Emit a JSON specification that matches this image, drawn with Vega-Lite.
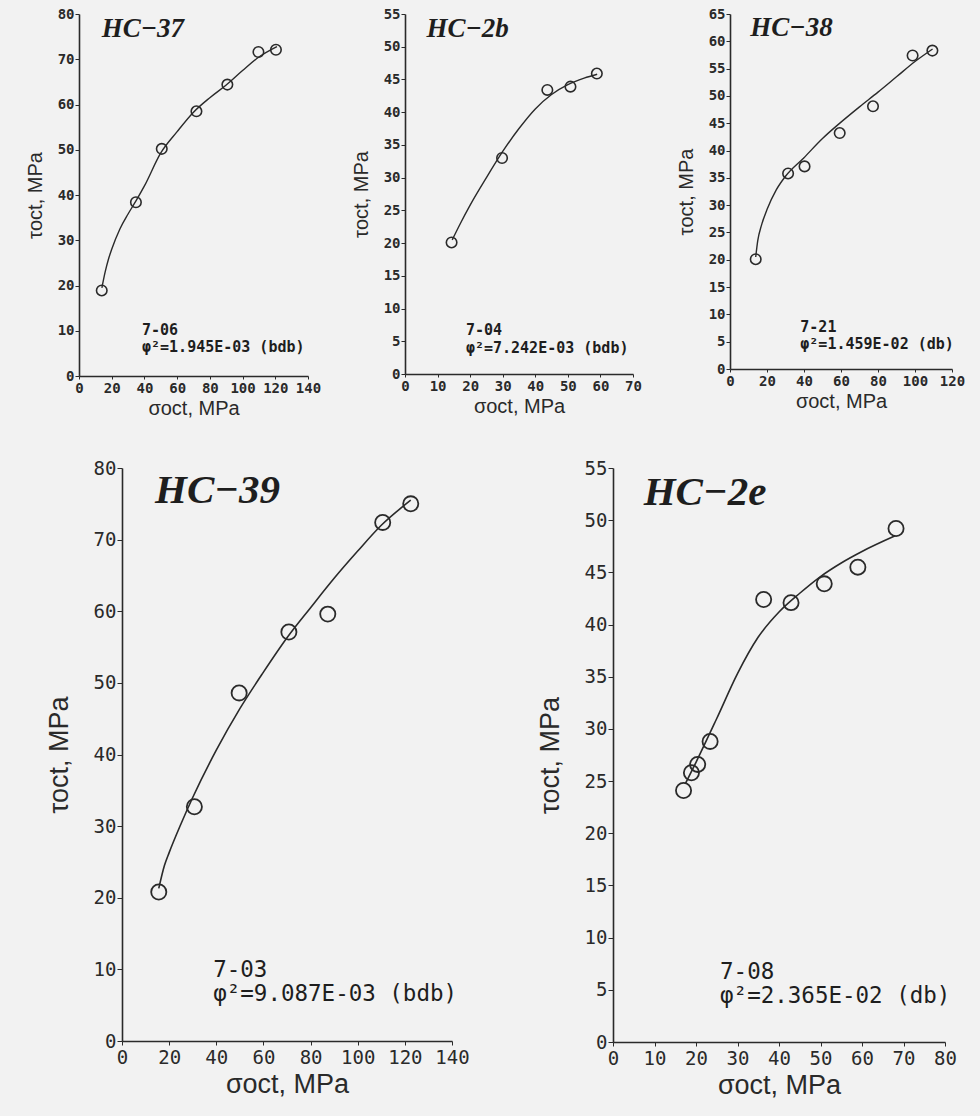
{
  "$schema": "https://vega.github.io/schema/vega-lite/v6.json",
  "background": "#f2f2f2",
  "padding": {"left": 25, "top": 7, "right": 17, "bottom": 18},
  "spacing": 41,
  "config": {
    "view": {"stroke": null},
    "axis": {"grid": false, "domainColor": "#2a2a2a", "tickColor": "#2a2a2a", "labelColor": "#2a2a2a", "titleColor": "#2a2a2a", "labelFont": "DejaVu Sans Mono", "titleFont": "Liberation Sans", "titleFontWeight": "normal", "domainWidth": 1.6, "labelFlush": false, "labelOverlap": false, "labelBound": false}
  },
  "datasets": {
    "pts": [
      {"panel": "HC-37", "s": 13.9, "t": 18.9}, {"panel": "HC-37", "s": 34.8, "t": 38.4}, {"panel": "HC-37", "s": 50.6, "t": 50.2}, {"panel": "HC-37", "s": 71.8, "t": 58.5}, {"panel": "HC-37", "s": 90.7, "t": 64.4}, {"panel": "HC-37", "s": 109.7, "t": 71.6}, {"panel": "HC-37", "s": 120.4, "t": 72.1},
      {"panel": "HC-2b", "s": 14.3, "t": 20.1}, {"panel": "HC-2b", "s": 29.8, "t": 33.0}, {"panel": "HC-2b", "s": 43.7, "t": 43.4}, {"panel": "HC-2b", "s": 50.8, "t": 43.9}, {"panel": "HC-2b", "s": 58.9, "t": 45.9},
      {"panel": "HC-38", "s": 13.9, "t": 20.1}, {"panel": "HC-38", "s": 31.4, "t": 35.8}, {"panel": "HC-38", "s": 40.3, "t": 37.1}, {"panel": "HC-38", "s": 59.3, "t": 43.2}, {"panel": "HC-38", "s": 77.3, "t": 48.1}, {"panel": "HC-38", "s": 98.7, "t": 57.4}, {"panel": "HC-38", "s": 109.4, "t": 58.3},
      {"panel": "HC-39", "s": 15.6, "t": 20.8}, {"panel": "HC-39", "s": 30.7, "t": 32.7}, {"panel": "HC-39", "s": 49.7, "t": 48.6}, {"panel": "HC-39", "s": 70.8, "t": 57.1}, {"panel": "HC-39", "s": 87.3, "t": 59.6}, {"panel": "HC-39", "s": 110.6, "t": 72.4}, {"panel": "HC-39", "s": 122.5, "t": 75.0},
      {"panel": "HC-2e", "s": 17.0, "t": 24.1}, {"panel": "HC-2e", "s": 18.9, "t": 25.8}, {"panel": "HC-2e", "s": 20.4, "t": 26.6}, {"panel": "HC-2e", "s": 23.4, "t": 28.8}, {"panel": "HC-2e", "s": 36.3, "t": 42.4}, {"panel": "HC-2e", "s": 42.9, "t": 42.1}, {"panel": "HC-2e", "s": 50.9, "t": 43.9}, {"panel": "HC-2e", "s": 59.0, "t": 45.5}, {"panel": "HC-2e", "s": 68.2, "t": 49.2}
    ],
    "fit": [
      {"panel": "HC-37", "s": 14, "t": 19.5}, {"panel": "HC-37", "s": 16, "t": 23}, {"panel": "HC-37", "s": 18, "t": 25.8}, {"panel": "HC-37", "s": 20, "t": 28}, {"panel": "HC-37", "s": 25, "t": 32.5}, {"panel": "HC-37", "s": 30, "t": 35.8}, {"panel": "HC-37", "s": 35, "t": 38.8}, {"panel": "HC-37", "s": 40, "t": 42}, {"panel": "HC-37", "s": 50, "t": 49.3}, {"panel": "HC-37", "s": 60, "t": 54}, {"panel": "HC-37", "s": 70, "t": 58.3}, {"panel": "HC-37", "s": 80, "t": 61.5}, {"panel": "HC-37", "s": 90, "t": 64.3}, {"panel": "HC-37", "s": 100, "t": 67.5}, {"panel": "HC-37", "s": 110, "t": 70.5}, {"panel": "HC-37", "s": 121, "t": 72.8},
      {"panel": "HC-2b", "s": 14.5, "t": 20.5}, {"panel": "HC-2b", "s": 17, "t": 23}, {"panel": "HC-2b", "s": 20, "t": 25.8}, {"panel": "HC-2b", "s": 25, "t": 30}, {"panel": "HC-2b", "s": 30, "t": 34}, {"panel": "HC-2b", "s": 35, "t": 37.5}, {"panel": "HC-2b", "s": 40, "t": 40.5}, {"panel": "HC-2b", "s": 45, "t": 42.7}, {"panel": "HC-2b", "s": 50, "t": 44.2}, {"panel": "HC-2b", "s": 55, "t": 45.2}, {"panel": "HC-2b", "s": 59, "t": 45.8},
      {"panel": "HC-38", "s": 13.9, "t": 20.5}, {"panel": "HC-38", "s": 15, "t": 23.5}, {"panel": "HC-38", "s": 17, "t": 26.3}, {"panel": "HC-38", "s": 20, "t": 29.2}, {"panel": "HC-38", "s": 25, "t": 32.8}, {"panel": "HC-38", "s": 30, "t": 35.3}, {"panel": "HC-38", "s": 40, "t": 38.7}, {"panel": "HC-38", "s": 50, "t": 42.2}, {"panel": "HC-38", "s": 60, "t": 45.2}, {"panel": "HC-38", "s": 70, "t": 48}, {"panel": "HC-38", "s": 80, "t": 50.7}, {"panel": "HC-38", "s": 90, "t": 53.5}, {"panel": "HC-38", "s": 100, "t": 56.3}, {"panel": "HC-38", "s": 109.5, "t": 58.6},
      {"panel": "HC-39", "s": 15.6, "t": 21.3}, {"panel": "HC-39", "s": 18, "t": 24.5}, {"panel": "HC-39", "s": 20, "t": 26.3}, {"panel": "HC-39", "s": 25, "t": 30.3}, {"panel": "HC-39", "s": 30, "t": 34}, {"panel": "HC-39", "s": 40, "t": 40.6}, {"panel": "HC-39", "s": 50, "t": 46.4}, {"panel": "HC-39", "s": 60, "t": 51.5}, {"panel": "HC-39", "s": 70, "t": 56.3}, {"panel": "HC-39", "s": 80, "t": 60.5}, {"panel": "HC-39", "s": 90, "t": 64.6}, {"panel": "HC-39", "s": 100, "t": 68.4}, {"panel": "HC-39", "s": 110, "t": 72}, {"panel": "HC-39", "s": 122.5, "t": 75.5},
      {"panel": "HC-2e", "s": 17.5, "t": 24.8}, {"panel": "HC-2e", "s": 20, "t": 26.8}, {"panel": "HC-2e", "s": 25, "t": 31}, {"panel": "HC-2e", "s": 30, "t": 35.3}, {"panel": "HC-2e", "s": 35, "t": 38.8}, {"panel": "HC-2e", "s": 40, "t": 41.2}, {"panel": "HC-2e", "s": 45, "t": 43}, {"panel": "HC-2e", "s": 50, "t": 44.6}, {"panel": "HC-2e", "s": 55, "t": 45.9}, {"panel": "HC-2e", "s": 60, "t": 47}, {"panel": "HC-2e", "s": 68, "t": 48.5}
    ],
    "notes": [
      {"panel": "HC-37", "role": "title", "s": 13.9, "t": 76.7, "label": "HC−37"},
      {"panel": "HC-37", "role": "note", "s": 38.5, "t": 10.2, "label": "7-06"},
      {"panel": "HC-37", "role": "note", "s": 38.5, "t": 6.5, "label": "φ²=1.945E-03 (bdb)"},
      {"panel": "HC-2b", "role": "title", "s": 6.6, "t": 52.7, "label": "HC−2b"},
      {"panel": "HC-2b", "role": "note", "s": 18.7, "t": 6.7, "label": "7-04"},
      {"panel": "HC-2b", "role": "note", "s": 18.7, "t": 4.0, "label": "φ²=7.242E-03 (bdb)"},
      {"panel": "HC-38", "role": "title", "s": 11, "t": 62.5, "label": "HC−38"},
      {"panel": "HC-38", "role": "note", "s": 38, "t": 7.7, "label": "7-21"},
      {"panel": "HC-38", "role": "note", "s": 38, "t": 4.5, "label": "φ²=1.459E-02 (db)"},
      {"panel": "HC-39", "role": "title", "s": 14, "t": 76.8, "label": "HC−39"},
      {"panel": "HC-39", "role": "note", "s": 38.7, "t": 9.9, "label": "7-03"},
      {"panel": "HC-39", "role": "note", "s": 38.7, "t": 6.6, "label": "φ²=9.087E-03 (bdb)"},
      {"panel": "HC-2e", "role": "title", "s": 7.4, "t": 52.6, "label": "HC−2e"},
      {"panel": "HC-2e", "role": "note", "s": 25.8, "t": 6.7, "label": "7-08"},
      {"panel": "HC-2e", "role": "note", "s": 25.8, "t": 4.4, "label": "φ²=2.365E-02 (db)"}
    ]
  },
  "vconcat": [
    {
      "bounds": "flush",
      "spacing": 97,
      "hconcat": [
        {
          "width": 229, "height": 362,
          "encoding": {
            "x": {"field": "s", "type": "quantitative", "scale": {"domain": [0, 140], "nice": false}, "axis": {"values": [0, 20, 40, 60, 80, 100, 120, 140], "title": "σoct, MPa", "labelFontSize": 14, "labelFontWeight": "bold", "titleFontSize": 20, "titlePadding": 3, "tickSize": 3, "labelPadding": 2}},
            "y": {"field": "t", "type": "quantitative", "scale": {"domain": [0, 80], "nice": false}, "axis": {"values": [0, 10, 20, 30, 40, 50, 60, 70, 80], "title": "τoct, MPa", "labelFontSize": 14, "labelFontWeight": "bold", "titleFontSize": 20, "titlePadding": 12, "tickSize": 4, "labelPadding": 1}}
          },
          "layer": [
            {"data": {"name": "fit"}, "transform": [{"filter": "datum.panel === 'HC-37'"}], "mark": {"type": "line", "interpolate": "monotone", "color": "#2a2a2a", "strokeWidth": 1.4}, "encoding": {"order": {"field": "s"}}},
            {"data": {"name": "pts"}, "transform": [{"filter": "datum.panel === 'HC-37'"}], "mark": {"type": "point", "filled": false, "color": "#2a2a2a", "strokeWidth": 1.6, "size": 110, "opacity": 1}},
            {"data": {"name": "notes"}, "transform": [{"filter": "datum.panel === 'HC-37' && datum.role === 'title'"}], "mark": {"type": "text", "align": "left", "baseline": "middle", "font": "Liberation Serif", "fontStyle": "italic", "fontWeight": "bold", "fontSize": 27, "color": "#1e1e1e"}, "encoding": {"text": {"field": "label"}}},
            {"data": {"name": "notes"}, "transform": [{"filter": "datum.panel === 'HC-37' && datum.role === 'note'"}], "mark": {"type": "text", "align": "left", "baseline": "middle", "font": "DejaVu Sans Mono", "fontWeight": "bold", "fontSize": 15, "color": "#1e1e1e"}, "encoding": {"text": {"field": "label"}}}
          ]
        },
        {
          "width": 228, "height": 360,
          "encoding": {
            "x": {"field": "s", "type": "quantitative", "scale": {"domain": [0, 70], "nice": false}, "axis": {"values": [0, 10, 20, 30, 40, 50, 60, 70], "title": "σoct, MPa", "labelFontSize": 14, "labelFontWeight": "bold", "titleFontSize": 20, "titlePadding": 3, "tickSize": 3, "labelPadding": 2}},
            "y": {"field": "t", "type": "quantitative", "scale": {"domain": [0, 55], "nice": false}, "axis": {"values": [0, 5, 10, 15, 20, 25, 30, 35, 40, 45, 50, 55], "title": "τoct, MPa", "labelFontSize": 14, "labelFontWeight": "bold", "titleFontSize": 20, "titlePadding": 12, "tickSize": 4, "labelPadding": 1}}
          },
          "layer": [
            {"data": {"name": "fit"}, "transform": [{"filter": "datum.panel === 'HC-2b'"}], "mark": {"type": "line", "interpolate": "monotone", "color": "#2a2a2a", "strokeWidth": 1.4}, "encoding": {"order": {"field": "s"}}},
            {"data": {"name": "pts"}, "transform": [{"filter": "datum.panel === 'HC-2b'"}], "mark": {"type": "point", "filled": false, "color": "#2a2a2a", "strokeWidth": 1.6, "size": 110, "opacity": 1}},
            {"data": {"name": "notes"}, "transform": [{"filter": "datum.panel === 'HC-2b' && datum.role === 'title'"}], "mark": {"type": "text", "align": "left", "baseline": "middle", "font": "Liberation Serif", "fontStyle": "italic", "fontWeight": "bold", "fontSize": 27, "color": "#1e1e1e"}, "encoding": {"text": {"field": "label"}}},
            {"data": {"name": "notes"}, "transform": [{"filter": "datum.panel === 'HC-2b' && datum.role === 'note'"}], "mark": {"type": "text", "align": "left", "baseline": "middle", "font": "DejaVu Sans Mono", "fontWeight": "bold", "fontSize": 15, "color": "#1e1e1e"}, "encoding": {"text": {"field": "label"}}}
          ]
        },
        {
          "width": 222, "height": 355,
          "encoding": {
            "x": {"field": "s", "type": "quantitative", "scale": {"domain": [0, 120], "nice": false}, "axis": {"values": [0, 20, 40, 60, 80, 100, 120], "title": "σoct, MPa", "labelFontSize": 14, "labelFontWeight": "bold", "titleFontSize": 20, "titlePadding": 3, "tickSize": 3, "labelPadding": 2}},
            "y": {"field": "t", "type": "quantitative", "scale": {"domain": [0, 65], "nice": false}, "axis": {"values": [0, 5, 10, 15, 20, 25, 30, 35, 40, 45, 50, 55, 60, 65], "title": "τoct, MPa", "labelFontSize": 14, "labelFontWeight": "bold", "titleFontSize": 20, "titlePadding": 12, "tickSize": 4, "labelPadding": 1}}
          },
          "layer": [
            {"data": {"name": "fit"}, "transform": [{"filter": "datum.panel === 'HC-38'"}], "mark": {"type": "line", "interpolate": "monotone", "color": "#2a2a2a", "strokeWidth": 1.4}, "encoding": {"order": {"field": "s"}}},
            {"data": {"name": "pts"}, "transform": [{"filter": "datum.panel === 'HC-38'"}], "mark": {"type": "point", "filled": false, "color": "#2a2a2a", "strokeWidth": 1.6, "size": 110, "opacity": 1}},
            {"data": {"name": "notes"}, "transform": [{"filter": "datum.panel === 'HC-38' && datum.role === 'title'"}], "mark": {"type": "text", "align": "left", "baseline": "middle", "font": "Liberation Serif", "fontStyle": "italic", "fontWeight": "bold", "fontSize": 27, "color": "#1e1e1e"}, "encoding": {"text": {"field": "label"}}},
            {"data": {"name": "notes"}, "transform": [{"filter": "datum.panel === 'HC-38' && datum.role === 'note'"}], "mark": {"type": "text", "align": "left", "baseline": "middle", "font": "DejaVu Sans Mono", "fontWeight": "bold", "fontSize": 15, "color": "#1e1e1e"}, "encoding": {"text": {"field": "label"}}}
          ]
        }
      ]
    },
    {
      "bounds": "flush",
      "spacing": 0,
      "hconcat": [
        {"width": 43, "height": 10, "data": {"values": [{}]}, "mark": {"type": "point", "opacity": 0}},
        {
          "bounds": "flush",
          "spacing": 161,
          "hconcat": [
            {
              "width": 330, "height": 573,
              "encoding": {
                "x": {"field": "s", "type": "quantitative", "scale": {"domain": [0, 140], "nice": false}, "axis": {"values": [0, 20, 40, 60, 80, 100, 120, 140], "title": "σoct, MPa", "labelFontSize": 19, "titleFontSize": 27, "titlePadding": 4, "tickSize": 4, "labelPadding": 3}},
                "y": {"field": "t", "type": "quantitative", "scale": {"domain": [0, 80], "nice": false}, "axis": {"values": [0, 10, 20, 30, 40, 50, 60, 70, 80], "title": "τoct, MPa", "labelFontSize": 19, "titleFontSize": 27, "titlePadding": 20, "tickSize": 5, "labelPadding": 1}}
              },
              "layer": [
                {"data": {"name": "fit"}, "transform": [{"filter": "datum.panel === 'HC-39'"}], "mark": {"type": "line", "interpolate": "monotone", "color": "#2a2a2a", "strokeWidth": 1.6}, "encoding": {"order": {"field": "s"}}},
                {"data": {"name": "pts"}, "transform": [{"filter": "datum.panel === 'HC-39'"}], "mark": {"type": "point", "filled": false, "color": "#2a2a2a", "strokeWidth": 1.8, "size": 230, "opacity": 1}},
                {"data": {"name": "notes"}, "transform": [{"filter": "datum.panel === 'HC-39' && datum.role === 'title'"}], "mark": {"type": "text", "align": "left", "baseline": "middle", "font": "Liberation Serif", "fontStyle": "italic", "fontWeight": "bold", "fontSize": 41, "color": "#1e1e1e"}, "encoding": {"text": {"field": "label"}}},
                {"data": {"name": "notes"}, "transform": [{"filter": "datum.panel === 'HC-39' && datum.role === 'note'"}], "mark": {"type": "text", "align": "left", "baseline": "middle", "font": "DejaVu Sans Mono", "fontSize": 22.5, "color": "#1e1e1e"}, "encoding": {"text": {"field": "label"}}}
              ]
            },
            {
              "width": 332, "height": 574,
              "encoding": {
                "x": {"field": "s", "type": "quantitative", "scale": {"domain": [0, 80], "nice": false}, "axis": {"values": [0, 10, 20, 30, 40, 50, 60, 70, 80], "title": "σoct, MPa", "labelFontSize": 19, "titleFontSize": 27, "titlePadding": 4, "tickSize": 4, "labelPadding": 3}},
                "y": {"field": "t", "type": "quantitative", "scale": {"domain": [0, 55], "nice": false}, "axis": {"values": [0, 5, 10, 15, 20, 25, 30, 35, 40, 45, 50, 55], "title": "τoct, MPa", "labelFontSize": 19, "titleFontSize": 27, "titlePadding": 20, "tickSize": 5, "labelPadding": 1}}
              },
              "layer": [
                {"data": {"name": "fit"}, "transform": [{"filter": "datum.panel === 'HC-2e'"}], "mark": {"type": "line", "interpolate": "monotone", "color": "#2a2a2a", "strokeWidth": 1.6}, "encoding": {"order": {"field": "s"}}},
                {"data": {"name": "pts"}, "transform": [{"filter": "datum.panel === 'HC-2e'"}], "mark": {"type": "point", "filled": false, "color": "#2a2a2a", "strokeWidth": 1.8, "size": 230, "opacity": 1}},
                {"data": {"name": "notes"}, "transform": [{"filter": "datum.panel === 'HC-2e' && datum.role === 'title'"}], "mark": {"type": "text", "align": "left", "baseline": "middle", "font": "Liberation Serif", "fontStyle": "italic", "fontWeight": "bold", "fontSize": 41, "color": "#1e1e1e"}, "encoding": {"text": {"field": "label"}}},
                {"data": {"name": "notes"}, "transform": [{"filter": "datum.panel === 'HC-2e' && datum.role === 'note'"}], "mark": {"type": "text", "align": "left", "baseline": "middle", "font": "DejaVu Sans Mono", "fontSize": 22.5, "color": "#1e1e1e"}, "encoding": {"text": {"field": "label"}}}
              ]
            }
          ]
        }
      ]
    }
  ]
}
